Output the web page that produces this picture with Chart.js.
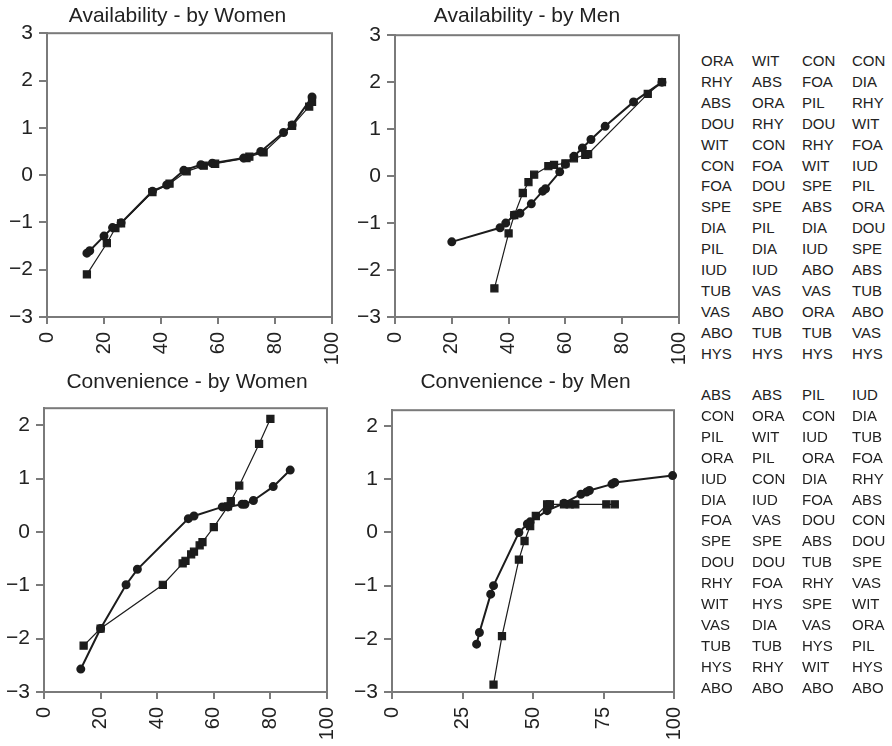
<!DOCTYPE html>
<html>
<head>
<meta charset="utf-8">
<script src="https://cdn.jsdelivr.net/npm/chart.js@4.4.0/dist/chart.umd.min.js"></script>
<style>
  body { margin: 0; background: #fff; width: 892px; height: 746px; position: relative; overflow: hidden;
         font-family: "Liberation Sans", Arial, Helvetica, sans-serif; }
  canvas { position: absolute; }
  .rank { position: absolute; font-size: 15px; color: #222; line-height: 15px; }
</style>
</head>
<body>
<canvas id="c1" width="355" height="370" style="left:0;top:0"></canvas>
<canvas id="c2" width="344" height="370" style="left:355px;top:0"></canvas>
<canvas id="c3" width="374" height="380" style="left:0;top:366px"></canvas>
<canvas id="c4" width="351" height="380" style="left:350px;top:366px"></canvas>
<div id="ranks"></div>

<script>
// Availability - by Women
const awCircX = [14, 15, 20, 23, 26, 37, 42, 48, 54, 58, 69, 75, 83, 86, 93];
const awCircY = [-1.65, -1.6, -1.29, -1.11, -1.01, -0.34, -0.21, 0.1, 0.22, 0.25, 0.36, 0.5, 0.9, 1.06, 1.65];
const awSqX = [14, 21, 24, 26, 37, 43, 49, 55, 59, 70, 71, 76, 86, 92, 93];
const awSqY = [-2.1, -1.44, -1.12, -1.02, -0.36, -0.18, 0.08, 0.2, 0.24, 0.36, 0.39, 0.48, 1.04, 1.45, 1.55];

// Availability - by Men
const amCircX = [20, 37, 39, 42, 44, 48, 52, 53, 58, 60, 63, 66, 69, 74, 84, 94];
const amCircY = [-1.4, -1.1, -1.0, -0.83, -0.79, -0.59, -0.32, -0.27, 0.09, 0.25, 0.42, 0.6, 0.78, 1.06, 1.58, 2.0];
const amSqX = [35, 40, 42, 45, 47, 49, 54, 56, 60, 63, 67, 68, 89, 94];
const amSqY = [-2.39, -1.22, -0.83, -0.36, -0.13, 0.03, 0.21, 0.24, 0.27, 0.38, 0.45, 0.47, 1.75, 2.0];

// Convenience - by Women
const cwCircX = [13, 20, 29, 33, 51, 53, 63, 65, 70, 71, 74, 81, 87];
const cwCircY = [-2.57, -1.81, -0.99, -0.7, 0.25, 0.3, 0.47, 0.47, 0.52, 0.52, 0.59, 0.85, 1.16];
const cwSqX = [14, 20, 42, 49, 50, 52, 53, 55, 56, 60, 65, 66, 69, 76, 80];
const cwSqY = [-2.13, -1.81, -0.99, -0.59, -0.54, -0.42, -0.37, -0.25, -0.19, 0.09, 0.48, 0.58, 0.87, 1.65, 2.12];

// Convenience - by Men
const cmCircX = [30, 31, 35, 36, 45, 48, 49, 55, 61, 67, 69, 70, 78, 79, 99.5];
const cmCircY = [-2.1, -1.88, -1.16, -1.0, 0.0, 0.16, 0.2, 0.41, 0.55, 0.72, 0.76, 0.79, 0.91, 0.94, 1.07];
const cmSqX = [36, 39, 45, 47, 49, 51, 55, 56, 61, 63, 65, 76, 79];
const cmSqY = [-2.86, -1.95, -0.51, -0.16, 0.12, 0.31, 0.53, 0.53, 0.53, 0.53, 0.53, 0.53, 0.53];

// rank columns next to the panels
const availRanks = [
  ['ORA', 'RHY', 'ABS', 'DOU', 'WIT', 'CON', 'FOA', 'SPE', 'DIA', 'PIL', 'IUD', 'TUB', 'VAS', 'ABO', 'HYS'],
  ['WIT', 'ABS', 'ORA', 'RHY', 'CON', 'FOA', 'DOU', 'SPE', 'PIL', 'DIA', 'IUD', 'VAS', 'ABO', 'TUB', 'HYS'],
  ['CON', 'FOA', 'PIL', 'DOU', 'RHY', 'WIT', 'SPE', 'ABS', 'DIA', 'IUD', 'ABO', 'VAS', 'ORA', 'TUB', 'HYS'],
  ['CON', 'DIA', 'RHY', 'WIT', 'FOA', 'IUD', 'PIL', 'ORA', 'DOU', 'SPE', 'ABS', 'TUB', 'ABO', 'VAS', 'HYS']
];
const convRanks = [
  ['ABS', 'CON', 'PIL', 'ORA', 'IUD', 'DIA', 'FOA', 'SPE', 'DOU', 'RHY', 'WIT', 'VAS', 'TUB', 'HYS', 'ABO'],
  ['ABS', 'ORA', 'WIT', 'PIL', 'CON', 'IUD', 'VAS', 'SPE', 'DOU', 'FOA', 'HYS', 'DIA', 'TUB', 'RHY', 'ABO'],
  ['PIL', 'CON', 'IUD', 'ORA', 'DIA', 'FOA', 'DOU', 'ABS', 'TUB', 'RHY', 'SPE', 'VAS', 'HYS', 'WIT', 'ABO'],
  ['IUD', 'DIA', 'TUB', 'FOA', 'RHY', 'ABS', 'CON', 'DOU', 'SPE', 'VAS', 'WIT', 'ORA', 'PIL', 'HYS', 'ABO']
];

const xTicks20 = [0, 20, 40, 60, 80, 100];
const xTicks25 = [0, 25, 50, 75, 100];
const yTicksAvail = [-3, -2, -1, 0, 1, 2, 3];
const yTicksConv = [-3, -2, -1, 0, 1, 2];

const ink = '#1c1c1c';
const axisGray = '#7a7a7a';
const font = '"Liberation Sans", Arial, Helvetica, sans-serif';

const framePlugin = {
  id: 'frame',
  beforeDatasetsDraw(chart) {
    const { ctx, chartArea: a } = chart;
    ctx.save();
    ctx.strokeStyle = axisGray;
    ctx.lineWidth = 2;
    ctx.strokeRect(a.left, a.top, a.right - a.left, a.bottom - a.top);
    ctx.restore();
  }
};

function toPoints(xs, ys) {
  return xs.map((x, i) => ({ x: x, y: ys[i] }));
}

function createDrawChart(id, title, circX, circY, sqX, sqY, o) {
  const ctx = document.getElementById(id).getContext('2d');
  return new Chart(ctx, {
    type: 'scatter',
    data: {
      datasets: [
        {
          data: toPoints(circX, circY), showLine: true, tension: 0, clip: false,
          borderColor: ink, backgroundColor: ink, borderWidth: 2,
          pointStyle: 'circle', pointRadius: 3.5, pointHoverRadius: 3.5
        },
        {
          data: toPoints(sqX, sqY), showLine: true, tension: 0, clip: false,
          borderColor: ink, backgroundColor: ink, borderWidth: 1.2,
          pointStyle: 'rect', pointRadius: 5, pointHoverRadius: 5
        }
      ]
    },
    options: {
      responsive: false,
      animation: false,
      layout: { padding: 0 },
      plugins: {
        legend: { display: false },
        tooltip: { enabled: false },
        title: {
          display: true, text: title, color: '#222',
          font: { family: font, size: 21, weight: 'normal' },
          padding: { top: 4, bottom: o.titleBottom }
        }
      },
      scales: {
        x: {
          type: 'linear', min: 0, max: 100,
          afterBuildTicks: s => { s.ticks = o.xTicks.map(v => ({ value: v })); },
          afterFit: s => { s.height = o.xHeight; s.paddingRight = o.padRight; s.paddingLeft = 0; },
          ticks: {
            minRotation: 90, maxRotation: 90, autoSkip: false, padding: 8,
            color: '#222', font: { family: font, size: 20 }
          },
          grid: { drawOnChartArea: false, drawTicks: true, tickLength: 7, color: axisGray, lineWidth: 2 },
          border: { display: true, color: axisGray, width: 2 }
        },
        y: {
          type: 'linear', min: -3, max: o.yMax,
          afterBuildTicks: s => { s.ticks = o.yTicks.map(v => ({ value: v })); },
          afterFit: s => { s.width = o.yWidth; },
          ticks: {
            padding: 6, color: '#222', font: { family: font, size: 21 },
            callback: v => (v < 0 ? '\u2212' + Math.abs(v) : String(v))
          },
          grid: { drawOnChartArea: false, drawTicks: true, tickLength: 8, color: axisGray, lineWidth: 2 },
          border: { display: true, color: axisGray, width: 2 }
        }
      }
    },
    plugins: [framePlugin]
  });
}

function drawRanks(cols, top) {
  const holder = document.getElementById('ranks');
  const colLeft = [701, 752, 802, 852];
  cols.forEach((col, c) => {
    col.forEach((name, r) => {
      const d = document.createElement('div');
      d.className = 'rank';
      d.textContent = name;
      d.style.left = colLeft[c] + 'px';
      d.style.top = (top + r * 20.9) + 'px';
      holder.appendChild(d);
    });
  });
}

document.addEventListener('DOMContentLoaded', function () {
  createDrawChart('c1', 'Availability - by Women', awCircX, awCircY, awSqX, awSqY,
    { yMax: 3, yTicks: yTicksAvail, xTicks: xTicks20, yWidth: 47, padRight: 23, xHeight: 53, titleBottom: 4 });
  createDrawChart('c2', 'Availability - by Men', amCircX, amCircY, amSqX, amSqY,
    { yMax: 3, yTicks: yTicksAvail, xTicks: xTicks20, yWidth: 40, padRight: 20, xHeight: 53, titleBottom: 6 });
  createDrawChart('c3', 'Convenience - by Women', cwCircX, cwCircY, cwSqX, cwSqY,
    { yMax: 2.32, yTicks: yTicksConv, xTicks: xTicks20, yWidth: 44, padRight: 47, xHeight: 54, titleBottom: 13 });
  createDrawChart('c4', 'Convenience - by Men', cmCircX, cmCircY, cmSqX, cmSqY,
    { yMax: 2.3, yTicks: yTicksConv, xTicks: xTicks25, yWidth: 42, padRight: 27, xHeight: 54, titleBottom: 15 });

  drawRanks(availRanks, 53);
  drawRanks(convRanks, 387);
});
</script>
</body>
</html>
